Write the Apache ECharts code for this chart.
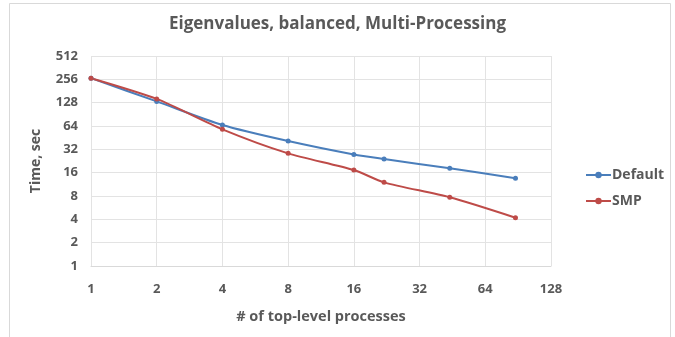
<!DOCTYPE html>
<html>
<head>
<meta charset="utf-8">
<script src="https://cdn.jsdelivr.net/npm/echarts@6/dist/echarts.min.js"></script>
<style>
html,body{margin:0;padding:0;background:#fff;}
#c{width:675px;height:337px;}
</style>
</head>
<body>
<div id="c"></div>
<script>
const titleText = 'Eigenvalues, balanced, Multi-Processing';
const processes = [1, 2, 4, 8, 16, 22, 44, 88];
const defaultTimes = [265, 133, 66, 41, 27.5, 24, 18.2, 13.6];
const smpTimes = [265, 143, 58, 28.4, 17.3, 12.0, 7.7, 4.2];
const seriesNames = ['Default', 'SMP'];

const chart = echarts.init(document.getElementById('c'));
const txt = '#595959';
const font = 'Open Sans';
function pairs(xs, ys){ return xs.map((x,i)=>[x, ys[i]]); }
chart.setOption({
  animation: false,
  backgroundColor: '#fff',
  graphic: [{
    type: 'rect', shape: {x: 9.5, y: 3.5, width: 661, height: 360},
    style: {fill: 'none', stroke: '#d9d9d9', lineWidth: 1}, silent: true
  }],
  title: {
    text: titleText, left: 'center', top: 11,
    textStyle: {fontFamily: font, fontSize: 17, fontWeight: 'bold', color: txt}
  },
  legend: {
    orient: 'vertical', left: 580, top: 163, itemGap: 12,
    itemWidth: 25, itemHeight: 8,
    textStyle: {fontFamily: font, fontSize: 14, fontWeight: 'bold', color: txt, padding: [0,0,0,-4]},
    data: seriesNames
  },
  grid: {left: 91, right: 124, top: 56, bottom: 71},
  xAxis: {
    type: 'log', logBase: 2, min: 1, max: 128, interval: 1,
    name: '# of top-level processes', nameLocation: 'middle', nameGap: 43,
    nameTextStyle: {fontFamily: font, fontSize: 14.5, fontWeight: 'bold', color: txt},
    axisLine: {show: true, lineStyle: {color: '#d9d9d9'}},
    axisTick: {show: false},
    axisLabel: {fontFamily: font, fontSize: 13, fontWeight: 'bold', color: txt, margin: 17},
    splitLine: {show: true, lineStyle: {color: '#e3e3e3'}}
  },
  yAxis: {
    type: 'log', logBase: 2, min: 1, max: 512, interval: 1,
    name: 'Time, sec', nameLocation: 'middle', nameGap: 48,
    nameTextStyle: {fontFamily: font, fontSize: 14, fontWeight: 'bold', color: txt},
    axisLine: {show: false},
    axisTick: {show: false},
    axisLabel: {fontFamily: font, fontSize: 13, fontWeight: 'bold', color: txt, margin: 13},
    splitLine: {show: true, lineStyle: {color: '#e3e3e3'}}
  },
  series: [
    {name: seriesNames[0], type: 'line', data: pairs(processes, defaultTimes), smooth: 0.25,
     symbol: 'circle', symbolSize: 5, color: '#4a7ebb', lineStyle: {width: 2, color: '#4a7ebb'}},
    {name: seriesNames[1], type: 'line', data: pairs(processes, smpTimes), smooth: 0.25,
     symbol: 'circle', symbolSize: 5, color: '#be4b48', lineStyle: {width: 2, color: '#be4b48'}}
  ]
});
</script>
</body>
</html>
